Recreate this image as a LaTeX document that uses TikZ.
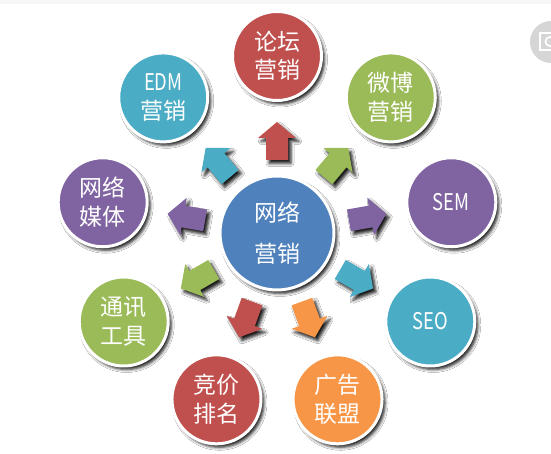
\documentclass[tikz,border=0pt]{standalone}
\usepackage{fontspec}
\setmainfont{Noto Sans CJK SC}
\newfontfamily\latc[FakeStretch=0.8]{Noto Sans CJK SC}
\usetikzlibrary{shadows.blur,calc}
\definecolor{cred}{HTML}{C0504D}
\definecolor{cgreen}{HTML}{9BBB59}
\definecolor{cpurple}{HTML}{8064A2}
\definecolor{cteal}{HTML}{4BACC6}
\definecolor{corange}{HTML}{F79646}
\definecolor{cblue}{HTML}{4F81BD}
\definecolor{iconbg}{HTML}{D6D6D6}
\begin{document}
\begin{tikzpicture}[x=1pt,y=1pt,
  shade3d/.style={blur shadow={shadow xshift=3pt, shadow yshift=-3.5pt, shadow blur radius=3pt, shadow opacity=90}},
  bubble/.style={circle, draw=white, line width=3pt, text=white, align=center, inner sep=0pt,
    minimum size=89pt, font=\fontsize{23}{28.5}\selectfont, shade3d},
  hub/.style={bubble, minimum size=114pt, font=\fontsize{23}{41}\selectfont},
]
\useasboundingbox (0,0) rectangle (551,454);
\fill[white] (0,0) rectangle (551,454);
\fill[gray!7] (0,450) rectangle (551,454);
% corner icon
\fill[iconbg] (551,412) circle (21);
\draw[white, line width=2pt] (540,404) rectangle (556,421);
\fill[white] (550,412.5) circle (5.5);
\fill[iconbg] (550,412.5) circle (3.5);

\coordinate (C) at (277,221);
\node[hub, fill=cblue] (hub) at (C) {网络\\营销};

\node[bubble, fill=cred]    (luntan) at ($(C)+(90:177)$)   {论坛\\营销};
\node[bubble, fill=cgreen]  (weibo)  at ($(C)+(50:177)$)   {微博\\营销};
\node[bubble, fill=cpurple] (sem)    at ($(C)+(10:177)$)   {\latc SEM};
\node[bubble, fill=cteal]   (seo)    at ($(C)+(-30:177)$)  {\latc SEO};
\node[bubble, fill=corange] (guanggao) at ($(C)+(-70:177)$) {广告\\联盟};
\node[bubble, fill=cred]    (jingjia) at ($(C)+(-110:177)$) {竞价\\排名};
\node[bubble, fill=cgreen]  (tongxun) at ($(C)+(-150:177)$) {通讯\\工具};
\node[bubble, fill=cpurple] (meiti)  at ($(C)+(170:177)$)  {网络\\媒体};
\node[bubble, fill=cteal]   (edm)    at ($(C)+(130:177)$)  {{\latc EDM}\\营销};

% block arrows (built from polar offsets so the shadow stays lower-right)
\foreach \ang/\col in {90/cred, 50/cgreen, 10/cpurple, -30/cteal, -70/corange, -110/cred, -150/cgreen, 170/cpurple, 130/cteal}{
  \coordinate (A) at ($(C)+(\ang:92)$);
  \path[fill=\col, shade3d]
    ($(A)+(\ang:-19)+(\ang+90:-11)$) --
    ($(A)+(\ang:3)+(\ang+90:-11)$) --
    ($(A)+(\ang:3)+(\ang+90:-19)$) --
    ($(A)+(\ang:19)$) --
    ($(A)+(\ang:3)+(\ang+90:19)$) --
    ($(A)+(\ang:3)+(\ang+90:11)$) --
    ($(A)+(\ang:-19)+(\ang+90:11)$) -- cycle;
}
\end{tikzpicture}
\end{document}
